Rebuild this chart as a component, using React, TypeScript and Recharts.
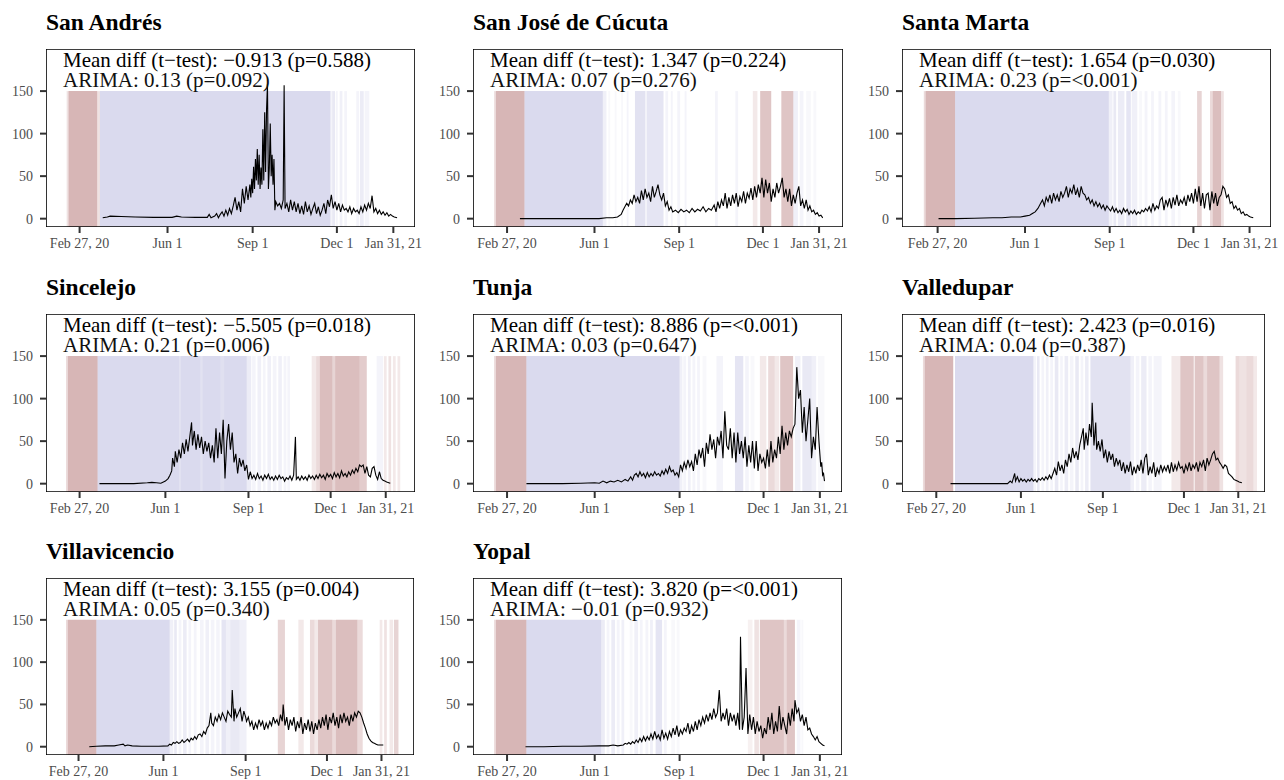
import React from "react";
import { LineChart, Line, XAxis, YAxis, ReferenceArea } from "recharts";

// ---------- axis data ----------
const tickDays = [0, 95, 187, 278, 339];
const tickLabels = ["Feb 27, 20", "Jun 1", "Sep 1", "Dec 1", "Jan 31, 21"];
const yTicks = [0, 50, 100, 150];
const Y_DOMAIN: [number, number] = [-9.8, 199.5];
const BAND_TOP = 150;

// ---------- panel labels ----------
const cityNames = [
  "San Andrés",
  "San José de Cúcuta",
  "Santa Marta",
  "Sincelejo",
  "Tunja",
  "Valledupar",
  "Villavicencio",
  "Yopal",
];
const tTestLabels = [
  "Mean diff (t−test): −0.913 (p=0.588)",
  "Mean diff (t−test): 1.347 (p=0.224)",
  "Mean diff (t−test): 1.654 (p=0.030)",
  "Mean diff (t−test): −5.505 (p=0.018)",
  "Mean diff (t−test): 8.886 (p=<0.001)",
  "Mean diff (t−test): 2.423 (p=0.016)",
  "Mean diff (t−test): 3.155 (p=0.004)",
  "Mean diff (t−test): 3.820 (p=<0.001)",
];
const arimaLabels = [
  "ARIMA: 0.13 (p=0.092)",
  "ARIMA: 0.07 (p=0.276)",
  "ARIMA: 0.23 (p=<0.001)",
  "ARIMA: 0.21 (p=0.006)",
  "ARIMA: 0.03 (p=0.647)",
  "ARIMA: 0.04 (p=0.387)",
  "ARIMA: 0.05 (p=0.340)",
  "ARIMA: −0.01 (p=0.932)",
];
// x range (days since Feb 27, 2020) shown in each panel
const xDomains: [number, number][] = [
  [-36.3, 362.4],
  [-37, 365],
  [-38.7, 362.3],
  [-37.2, 371.4],
  [-36.9, 363],
  [-38.5, 369],
  [-36.4, 375.4],
  [-36.9, 363],
];

// ---------- series: [day since Feb 27 2020, daily value] ----------
const sanAndresSeries = [[25,1],[30,2],[33,3],[45,2.5],[60,2],[80,1.5],[100,1.5],[105,3],[110,2],[125,1.5],[138,1.5],[140,5],[142,1],[146,3],[148,6],[150,1],[152,5],[154,8],[156,3],[158,10],[160,4],[162,12],[164,6],[166,15],[168,25],[170,10],[172,20],[174,8],[176,35],[178,18],[180,38],[182,22],[184,40],[185,25],[186,47],[187,30],[188,61],[189,35],[190,70],[191,45],[192,82],[193,40],[194,75],[195,35],[196,60],[197,40],[198,105],[199,45],[200,125],[201,55],[202,128],[203,158],[204,35],[205,60],[206,112],[207,50],[208,75],[209,40],[210,70],[211,10],[212,20],[214,15],[216,18],[218,12],[220,22],[221,157],[222,12],[224,18],[226,8],[228,22],[230,10],[232,20],[234,8],[236,18],[238,6],[240,15],[242,5],[244,20],[246,8],[248,15],[250,5],[252,12],[254,18],[256,6],[258,14],[260,4],[262,10],[264,18],[266,6],[268,22],[270,14],[272,28],[274,12],[276,20],[278,10],[280,18],[282,8],[284,16],[286,10],[288,12],[290,8],[292,14],[294,6],[296,12],[298,8],[300,10],[302,6],[304,14],[306,8],[308,16],[310,10],[312,18],[314,12],[316,27],[318,8],[320,12],[322,6],[324,10],[326,5],[328,8],[330,4],[332,7],[334,3],[336,5],[338,3],[340,2],[343,1]];

const cucutaSeries = [[14,0],[40,0],[70,0],[100,0],[108,1],[115,1],[120,2],[124,5],[126,10],[128,14],[130,18],[132,15],[134,22],[136,18],[138,28],[140,20],[142,25],[144,18],[146,33],[148,22],[150,35],[152,25],[154,30],[156,20],[158,38],[160,25],[162,32],[164,40],[166,28],[168,22],[170,30],[172,15],[174,20],[176,10],[178,14],[180,8],[183,10],[186,7],[189,11],[192,8],[195,10],[198,7],[201,12],[204,8],[207,11],[210,9],[213,14],[216,8],[219,12],[222,10],[225,16],[227,8],[229,20],[231,12],[233,22],[235,15],[237,30],[239,12],[241,25],[243,15],[245,28],[247,18],[249,30],[251,14],[253,26],[255,20],[257,32],[259,18],[261,30],[263,24],[265,36],[267,22],[269,38],[271,25],[273,40],[275,30],[277,48],[279,25],[281,46],[283,30],[285,42],[287,20],[289,35],[291,25],[293,42],[295,30],[297,38],[299,48],[301,25],[303,35],[305,20],[307,35],[309,15],[311,28],[313,18],[315,30],[317,38],[319,15],[321,22],[323,12],[325,22],[327,10],[329,15],[331,8],[333,10],[335,5],[337,7],[339,3],[341,4],[343,1]];

const santaMartaSeries = [[1,0],[20,0],[40,0.5],[60,1],[70,1],[80,2],[90,2],[95,3],[100,4],[103,6],[106,8],[109,12],[112,18],[114,22],[116,15],[118,25],[120,20],[122,28],[124,18],[126,30],[128,22],[130,28],[132,20],[134,32],[136,25],[138,30],[140,38],[142,25],[144,35],[146,30],[148,40],[150,28],[152,35],[154,25],[156,38],[158,30],[160,28],[162,22],[164,25],[166,18],[168,22],[170,15],[172,20],[174,14],[176,18],[178,12],[180,16],[182,10],[184,15],[186,12],[188,9],[190,14],[192,8],[194,12],[196,7],[198,10],[200,6],[202,12],[204,8],[206,11],[208,5],[210,9],[212,6],[214,10],[216,5],[218,8],[220,6],[222,10],[224,8],[226,12],[228,9],[230,14],[232,8],[234,18],[236,10],[238,15],[240,12],[242,22],[244,25],[246,10],[248,22],[250,15],[252,24],[254,12],[256,25],[258,16],[260,28],[262,15],[264,22],[266,18],[268,25],[270,15],[272,28],[274,20],[276,30],[278,18],[280,35],[282,20],[284,38],[286,15],[288,30],[290,12],[292,28],[294,30],[296,10],[298,32],[300,18],[302,30],[304,15],[306,25],[308,28],[310,38],[312,35],[314,25],[316,28],[318,18],[320,20],[322,12],[324,15],[326,10],[328,12],[330,6],[332,8],[334,4],[336,5],[338,3],[340,2],[343,1]];

const sincelejoSeries = [[22,0],[40,0],[60,0],[75,1],[80,1.5],[85,1],[90,0.5],[95,3],[98,6],[100,10],[102,15],[103,30],[105,20],[106,38],[108,25],[110,40],[112,30],[114,48],[116,35],[118,52],[120,38],[122,55],[124,72],[125,45],[127,62],[129,40],[131,58],[133,42],[135,55],[137,35],[139,50],[141,38],[143,48],[145,30],[147,45],[149,25],[151,65],[153,30],[155,60],[157,35],[159,75],[161,6],[163,50],[165,70],[167,40],[169,60],[171,25],[173,35],[175,12],[177,30],[179,20],[181,28],[183,15],[185,22],[187,5],[189,14],[191,6],[193,10],[195,5],[197,12],[199,6],[201,9],[203,4],[205,10],[207,6],[209,11],[211,5],[213,8],[215,4],[217,9],[219,5],[221,10],[223,6],[225,8],[227,3],[229,7],[231,5],[233,9],[235,4],[237,10],[239,55],[240,5],[242,8],[244,4],[246,9],[248,5],[250,8],[252,4],[254,10],[256,6],[258,9],[260,5],[262,10],[264,6],[266,11],[268,7],[270,10],[272,5],[274,12],[276,8],[278,11],[280,6],[282,13],[284,8],[286,12],[288,7],[290,15],[292,9],[294,12],[296,8],[298,14],[300,10],[302,16],[304,12],[306,18],[308,14],[310,22],[312,20],[314,22],[316,12],[318,20],[320,10],[322,8],[324,18],[326,20],[328,10],[330,5],[332,14],[334,6],[336,4],[338,3],[340,2],[344,0.5]];

const tunjaSeries = [[21,0],[40,0],[60,0],[80,0.5],[95,1],[100,0.5],[104,3],[108,1],[112,3],[116,2],[120,4],[124,2],[128,5],[131,3],[134,8],[136,4],[138,10],[140,12],[142,8],[144,14],[146,9],[148,12],[150,7],[152,13],[154,8],[156,12],[158,9],[160,14],[162,10],[164,12],[166,9],[168,15],[170,11],[172,17],[174,12],[176,20],[178,14],[180,16],[182,10],[184,13],[186,8],[188,22],[190,15],[192,25],[194,18],[196,28],[198,20],[200,26],[202,15],[204,35],[206,22],[208,40],[210,30],[212,42],[214,20],[216,48],[218,35],[220,58],[222,40],[224,52],[226,30],[228,55],[230,45],[232,62],[234,30],[236,85],[238,45],[240,40],[242,65],[244,30],[246,60],[248,25],[250,60],[252,35],[254,50],[256,30],[258,55],[260,20],[262,45],[264,25],[266,50],[268,18],[270,50],[272,15],[274,35],[276,25],[278,30],[280,18],[282,40],[284,20],[286,50],[288,25],[290,40],[292,30],[294,55],[296,35],[298,68],[300,40],[302,60],[304,45],[306,62],[308,55],[310,65],[312,70],[314,137],[316,100],[318,110],[320,60],[322,90],[324,50],[326,75],[328,100],[330,30],[332,55],[334,40],[336,90],[338,50],[340,20],[341,25],[342,10],[343,12],[344,3]];

const valleduparSeries = [[16,0],[30,0],[50,0],[70,0],[80,0],[83,3],[85,1],[88,12],[89,3],[91,8],[93,2],[95,6],[97,3],[99,5],[101,2],[103,5],[105,3],[107,6],[109,3],[111,5],[113,2],[115,6],[117,4],[119,7],[121,4],[123,8],[125,5],[127,10],[129,6],[131,12],[133,18],[135,10],[137,26],[139,15],[141,22],[143,12],[145,28],[147,20],[149,35],[151,25],[153,42],[155,30],[157,38],[159,28],[161,45],[163,55],[165,65],[166,40],[168,60],[170,45],[172,70],[174,55],[175,95],[177,45],[179,72],[180,40],[182,50],[184,38],[186,52],[188,30],[190,40],[192,25],[194,38],[196,28],[198,35],[200,20],[202,30],[204,22],[206,28],[208,15],[210,25],[212,12],[214,22],[216,14],[218,26],[220,10],[222,20],[224,12],[226,22],[228,15],[230,28],[232,12],[234,30],[236,35],[238,10],[240,20],[242,12],[244,25],[246,8],[248,18],[250,12],[252,22],[254,14],[256,20],[258,15],[260,22],[262,12],[264,25],[266,14],[268,22],[270,16],[272,25],[274,18],[276,20],[278,12],[280,22],[282,16],[284,25],[286,15],[288,22],[290,18],[292,25],[294,14],[296,25],[298,20],[300,28],[302,15],[304,30],[306,22],[308,28],[310,35],[312,38],[314,28],[316,30],[318,25],[320,22],[322,18],[324,22],[326,20],[328,12],[330,10],[332,8],[334,5],[336,4],[338,3],[340,2],[343,1]];

const villavicencioSeries = [[12,0],[20,0.5],[30,1],[40,1],[45,2],[50,3],[52,1],[55,2],[60,1],[70,0.5],[80,0.5],[90,0.5],[100,1],[102,3],[104,2],[106,5],[108,4],[110,6],[112,4],[114,5],[116,8],[118,5],[120,7],[122,9],[124,6],[126,10],[128,8],[130,12],[132,9],[134,14],[136,15],[138,12],[140,18],[142,15],[144,22],[146,25],[148,40],[149,28],[151,25],[153,35],[155,30],[157,38],[159,32],[161,40],[163,35],[165,30],[167,42],[169,38],[171,35],[172,67],[174,30],[175,45],[177,35],[179,40],[181,45],[183,30],[185,42],[187,35],[188,30],[190,35],[192,25],[194,30],[196,20],[198,28],[200,22],[202,32],[204,25],[206,30],[208,20],[210,28],[212,22],[214,30],[216,25],[218,35],[220,28],[222,32],[224,25],[226,38],[228,30],[229,50],[231,25],[233,35],[235,20],[237,32],[239,25],[241,35],[243,18],[245,30],[247,22],[249,35],[251,15],[253,28],[255,20],[257,32],[259,18],[261,30],[263,15],[265,28],[267,20],[269,32],[271,22],[273,35],[275,25],[277,38],[279,20],[281,35],[283,28],[285,40],[287,25],[289,35],[291,22],[293,38],[295,28],[297,40],[299,30],[301,35],[303,25],[305,38],[307,30],[309,40],[311,35],[313,42],[315,40],[317,35],[319,28],[321,22],[323,15],[325,10],[327,7],[329,5],[331,4],[333,3],[335,2],[338,2],[341,2]];

const yopalSeries = [[20,0],[40,0],[60,0.5],[80,0.5],[100,1],[110,1],[115,2],[120,1],[126,2],[128,4],[130,3],[132,5],[134,3],[136,6],[138,4],[140,8],[142,5],[144,10],[146,6],[148,12],[150,7],[152,12],[154,8],[156,15],[158,9],[160,18],[162,10],[164,14],[166,8],[168,20],[170,10],[172,16],[174,9],[176,18],[178,12],[180,22],[182,14],[184,25],[186,12],[188,20],[190,15],[192,22],[194,18],[196,28],[198,15],[200,25],[202,18],[204,30],[206,20],[208,32],[210,25],[212,35],[214,28],[216,38],[218,30],[220,40],[222,32],[224,45],[226,35],[228,40],[230,67],[232,30],[234,40],[236,32],[238,45],[240,25],[242,40],[244,30],[246,38],[248,25],[250,40],[252,20],[253,130],[255,20],[257,35],[259,93],[261,15],[263,38],[265,20],[267,35],[269,15],[271,30],[273,18],[275,25],[277,10],[279,22],[281,15],[283,35],[285,20],[287,40],[289,15],[291,30],[293,18],[295,48],[297,20],[299,35],[301,25],[303,15],[305,40],[307,25],[309,45],[311,30],[312,55],[314,40],[316,45],[318,30],[320,38],[322,25],[324,35],[326,20],[328,22],[330,15],[332,12],[334,8],[336,12],[338,6],[340,4],[342,2],[344,1]];

// ---------- shaded periods: [startDay, endDay, kind (r = above, b = below), strength] ----------
const sanAndresBands = [[-14,-12,"r",0.4],[-12,19,"r",1],[19,22,"r",0.4],[22,271,"b",1],[271,273,"b",0.3],[273,276,"b",0.6],[277,279,"b",0.3],[281,284,"b",0.4],[286,289,"b",0.3],[299,302,"b",0.3],[303,307,"b",0.5],[308,313,"b",0.3]];
const cucutaBands = [[-14,-12,"r",0.5],[-12,19,"r",1],[19,104,"b",1],[104,108,"b",0.4],[110,112,"b",0.2],[117,119,"b",0.2],[124,126,"b",0.2],[130,132,"b",0.3],[139,150,"b",0.8],[150,152,"b",0.3],[152,170,"b",0.7],[172,175,"b",0.3],[178,180,"b",0.3],[185,188,"b",0.3],[193,195,"b",0.3],[226,229,"b",0.3],[248,251,"b",0.3],[267,272,"r",0.3],[275,287,"r",0.8],[298,311,"r",0.8],[311,316,"b",0.4],[318,322,"b",0.3],[325,330,"b",0.2],[333,336,"b",0.2]];
const santaMartaBands = [[-15,-13,"r",0.5],[-13,19,"r",1],[19,186,"b",1],[186,190,"b",0.4],[191,194,"b",0.6],[196,203,"b",0.5],[205,210,"b",0.7],[211,217,"b",0.4],[219,222,"b",0.2],[225,228,"b",0.3],[232,235,"b",0.3],[240,243,"b",0.3],[247,250,"b",0.3],[254,258,"b",0.3],[261,264,"b",0.2],[282,287,"r",0.6],[296,299,"r",0.5],[299,308,"r",0.9],[308,311,"r",0.4]];
const sincelejoBands = [[-15,-13,"r",0.5],[-13,20,"r",1],[20,110,"b",1],[110,112,"b",0.8],[112,134,"b",1],[134,136,"b",0.8],[136,156,"b",1],[156,160,"b",0.85],[160,185,"b",1],[185,190,"b",0.5],[191,195,"b",0.3],[197,201,"b",0.4],[203,206,"b",0.3],[208,212,"b",0.4],[214,218,"b",0.3],[220,224,"b",0.4],[226,229,"b",0.3],[230,233,"b",0.3],[257,262,"r",0.3],[262,266,"r",0.5],[266,280,"r",0.9],[280,283,"r",0.6],[283,310,"r",0.9],[310,318,"r",0.7],[329,336,"b",0.3],[337,340,"r",0.3],[342,345,"r",0.4],[347,350,"r",0.3],[352,355,"r",0.3]];
const tunjaBands = [[-14,-12,"r",0.5],[-12,21,"r",1],[21,187,"b",1],[187,190,"b",0.4],[191,194,"b",0.3],[196,199,"b",0.4],[201,204,"b",0.3],[206,209,"b",0.3],[212,216,"b",0.2],[227,234,"b",0.3],[247,256,"b",0.7],[258,262,"b",0.3],[264,268,"b",0.2],[274,281,"r",0.3],[283,290,"r",0.5],[290,295,"r",0.3],[296,310,"r",0.8],[312,318,"b",0.4],[320,330,"b",0.6],[330,335,"b",0.4],[337,344,"b",0.2]];
const valleduparBands = [[-15,-13,"r",0.5],[-13,19,"r",1],[21,109,"b",1],[109,112,"b",0.3],[113,116,"b",0.6],[118,121,"b",0.3],[123,126,"b",0.4],[128,131,"b",0.3],[133,137,"b",0.6],[139,142,"b",0.3],[144,148,"b",0.5],[150,154,"b",0.3],[156,160,"b",0.6],[162,165,"b",0.3],[167,171,"b",0.5],[173,218,"b",0.8],[218,222,"b",0.4],[224,228,"b",0.3],[230,236,"b",0.5],[238,242,"b",0.3],[244,253,"b",0.3],[264,274,"r",0.3],[274,289,"r",0.8],[290,300,"r",0.8],[300,304,"r",0.5],[304,318,"r",0.8],[318,322,"r",0.4],[336,340,"r",0.5],[340,348,"r",0.4],[348,356,"r",0.5],[356,360,"r",0.3]];
const villavicencioBands = [[-14,-12,"r",0.5],[-12,20,"r",1],[20,102,"b",1],[102,106,"b",0.4],[107,110,"b",0.6],[112,115,"b",0.3],[117,121,"b",0.5],[123,126,"b",0.3],[129,132,"b",0.3],[136,140,"b",0.3],[142,146,"b",0.4],[148,152,"b",0.3],[154,158,"b",0.3],[160,165,"b",0.7],[165,170,"b",0.4],[170,180,"b",0.6],[180,188,"b",0.4],[223,231,"r",0.6],[246,252,"r",0.3],[259,264,"r",0.5],[264,268,"r",0.3],[268,284,"r",0.8],[284,288,"r",0.5],[288,312,"r",0.9],[312,318,"r",0.5],[337,340,"r",0.3],[342,345,"r",0.4],[348,352,"r",0.3],[353,358,"r",0.6]];
const yopalBands = [[-14,-12,"r",0.5],[-12,21,"r",1],[21,102,"b",1],[102,106,"b",0.5],[108,111,"b",0.3],[113,117,"b",0.5],[119,122,"b",0.3],[124,127,"b",0.4],[133,136,"b",0.2],[138,142,"b",0.4],[144,147,"b",0.3],[150,153,"b",0.3],[155,158,"b",0.4],[161,168,"b",0.7],[170,173,"b",0.3],[178,182,"b",0.2],[184,187,"b",0.2],[261,266,"r",0.2],[268,273,"r",0.4],[274,300,"r",0.8],[300,303,"r",0.5],[303,312,"r",0.8],[314,318,"b",0.3],[319,321,"b",0.2]];

const allSeries = [sanAndresSeries, cucutaSeries, santaMartaSeries, sincelejoSeries, tunjaSeries, valleduparSeries, villavicencioSeries, yopalSeries];
const allBands = [sanAndresBands, cucutaBands, santaMartaBands, sincelejoBands, tunjaBands, valleduparBands, villavicencioBands, yopalBands];

// ---------- layout ----------
const boxes = [
  { left: 46, top: 49, w: 369, h: 178 },
  { left: 473, top: 49, w: 370, h: 178 },
  { left: 902, top: 49, w: 369, h: 178 },
  { left: 46, top: 314, w: 369, h: 178 },
  { left: 473, top: 314, w: 369, h: 178 },
  { left: 902, top: 314, w: 363, h: 178 },
  { left: 46, top: 578, w: 368, h: 177 },
  { left: 473, top: 578, w: 369, h: 177 },
];

const FONT = "'Liberation Serif', 'DejaVu Serif', serif";
const YW = 46;
const XH = 24;
const PAD = 4;
const RPAD = 14;
const RED = "rgb(160,82,82)";
const BLUE = "rgb(150,150,205)";

function Panel({ i }: { i: number }) {
  const b = boxes[i];
  const xd = xDomains[i];
  const data = allSeries[i].map(([day, cases]) => ({ day, cases }));
  const tickStyle = { fontFamily: FONT, fontSize: 14, fill: "#4d4d4d" };
  return (
    <div style={{ position: "absolute", left: b.left - YW, top: b.top - PAD }}>
      <LineChart
        width={YW + b.w + RPAD}
        height={PAD + b.h + XH}
        data={data}
        margin={{ top: PAD, right: RPAD, left: 0, bottom: 0 }}
        style={{ overflow: "visible" }}
      >
        <XAxis
          type="number"
          dataKey="day"
          domain={xd}
          allowDataOverflow
          ticks={tickDays}
          tickFormatter={(v: number) => tickLabels[tickDays.indexOf(v)]}
          height={XH}
          axisLine={false}
          tickSize={6}
          tickMargin={5}
          tickLine={{ stroke: "#333", strokeWidth: 2 }}
          tick={tickStyle}
          interval={0}
        />
        <YAxis
          type="number"
          domain={Y_DOMAIN}
          allowDataOverflow
          ticks={yTicks}
          width={YW}
          axisLine={false}
          tickSize={6}
          tickMargin={7}
          tickLine={{ stroke: "#333", strokeWidth: 2 }}
          tick={tickStyle}
          interval={0}
        />
        {allBands[i].map((bd, k) => (
          <ReferenceArea
            key={k}
            x1={bd[0] as number}
            x2={bd[1] as number}
            y1={Y_DOMAIN[0]}
            y2={BAND_TOP}
            fill={bd[2] === "r" ? RED : BLUE}
            fillOpacity={(bd[2] === "r" ? 0.42 : 0.35) * (bd[3] as number)}
            stroke="none"
            ifOverflow="hidden"
          />
        ))}
        <Line
          type="linear"
          dataKey="cases"
          stroke="#000"
          strokeWidth={1.1}
          dot={false}
          activeDot={false}
          isAnimationActive={false}
        />
        <ReferenceArea
          x1={xd[0]}
          x2={xd[1]}
          y1={Y_DOMAIN[0]}
          y2={Y_DOMAIN[1]}
          fill="none"
          stroke="#000"
          strokeWidth={1.6}
          ifOverflow="hidden"
        />
      </LineChart>
    </div>
  );
}

export default function App() {
  return (
    <div
      style={{
        position: "absolute",
        left: 0,
        top: 0,
        width: 1284,
        height: 780,
        background: "#fff",
        overflow: "hidden",
      }}
    >
      {boxes.map((_, i) => (
        <Panel key={i} i={i} />
      ))}
      <svg
        width={1284}
        height={780}
        style={{ position: "absolute", left: 0, top: 0, pointerEvents: "none" }}
      >
        {boxes.map((b, i) => (
          <g key={i}>
            <text x={b.left} y={b.top - 19} fontFamily={FONT} fontWeight="bold" fontSize={23.5} fill="#000">
              {cityNames[i]}
            </text>
            <text x={b.left + 17} y={b.top + 18} fontFamily={FONT} fontSize={21} fill="#000">
              {tTestLabels[i]}
            </text>
            <text x={b.left + 17} y={b.top + 37.5} fontFamily={FONT} fontSize={21} fill="#111">
              {arimaLabels[i]}
            </text>
          </g>
        ))}
      </svg>
    </div>
  );
}
